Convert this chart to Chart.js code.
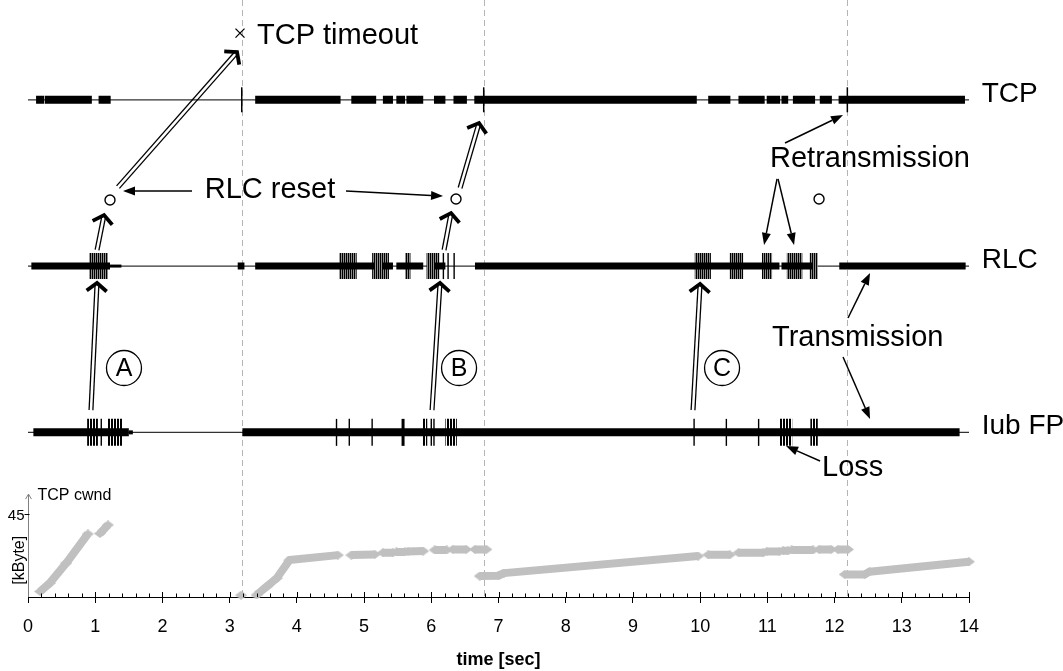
<!DOCTYPE html>
<html>
<head>
<meta charset="utf-8">
<script src="https://cdn.jsdelivr.net/npm/chart.js@4.4.1/dist/chart.umd.min.js"></script>
<style>
  html, body { margin: 0; padding: 0; background: #fff; }
  canvas { display: block; }
</style>
</head>
<body>
<canvas id="c" width="1063" height="671"></canvas>
<script>
// ---- protocol layers (lane value on the vertical "lane" axis) ----
const laneNames = ['Iub FP', 'RLC', 'TCP'];
const laneIub = 1, laneRlc = 2, laneTcp = 3;
const timeRange = [0, 14];

// TCP segments on the wire [start, end] in seconds
const tcpBursts = [[0.12, 0.24], [0.25, 0.95], [1.05, 1.23], [3.38, 4.65], [4.81, 5.18],
  [5.28, 5.43], [5.48, 5.61], [5.63, 5.88], [6.04, 6.21], [6.33, 6.53], [6.64, 9.95],
  [10.12, 10.45], [10.57, 10.96], [10.99, 11.19], [11.21, 11.31], [11.38, 11.71],
  [11.78, 11.96], [12.06, 13.94]];
const tcpTicks = [3.18, 6.78, 12.19];

// RLC PDUs
const rlcBursts = [[0.05, 1.22], [3.12, 3.22], [3.38, 5.16], [5.28, 5.43], [5.48, 5.88],
  [6.05, 6.21], [6.65, 11.18], [11.21, 11.68], [12.07, 13.95]];
const rlcTail = [[1.22, 1.39]];
const rlcRetxBlocks = [[0.91, 1.19], [4.63, 4.89], [5.12, 5.37], [5.61, 5.69], [5.93, 6.12],
  [9.92, 10.16], [10.44, 10.64], [10.92, 11.07], [11.29, 11.52], [11.63, 11.75]];
const rlcTicks = [6.18, 6.25, 6.34];

// Iub frame protocol
const iubBursts = [[0.08, 1.50], [3.19, 13.86]];
const iubTail = [[1.50, 1.56]];
const iubLossClusters = [[0.88, 1.04], [1.18, 1.41], [5.87, 5.94], [6.21, 6.38],
  [11.18, 11.37], [11.64, 11.75]];
const iubTicks = [1.09, 4.59, 4.78, 5.12, 6.00, 6.04, 9.91, 10.39, 10.87];
const iubWideTicks = [5.58];

// RLC reset instants
const resetTimes = [3.18, 6.78, 12.19];

// TCP congestion window [kByte]; null separates runs
const cwndTime = [0.18, 0.32, 0.57, 0.89, null, 1.07, 1.19, null, 3.17, null,
  3.40, 3.55, 3.70, 3.89, 4.61, null, 4.81, 5.16, null, 5.28, 5.43, null, 5.48, 5.61, null,
  5.65, 5.88, null, 6.05, 6.23, null, 6.32, 6.52, null, 6.65, 6.82, null,
  6.72, 7.00, 7.08, 9.97, null, 10.12, 10.44, null, 10.57, 10.94, null, 10.99, 11.18, null,
  11.23, 11.31, null, 11.36, 11.68, null, 11.77, 11.95, null, 12.05, 12.20, null,
  12.15, 12.45, 12.52, 14.00];
const cwndKByte = [3, 7.4, 18.5, 34.3, null, 34.6, 39.2, null, 1, null,
  1.1, 5.6, 10.2, 20.1, 22.8, null, 22.8, 23.2, null, 24.1, 24.1, null, 24.5, 24.5, null,
  24.8, 25.0, null, 25.6, 25.6, null, 25.9, 25.9, null, 25.9, 25.9, null,
  11.4, 11.6, 13.0, 22.3, null, 23.0, 23.0, null, 24.1, 24.1, null, 24.8, 24.8, null,
  25.2, 25.2, null, 25.6, 25.6, null, 25.9, 25.9, null, 25.9, 25.9, null,
  12.3, 12.3, 13.8, 19.2];
const cwndTickValues = [45];

// ---- annotations, in (time, lane) units ----
const noteCircles = [[1.220, 2.397], [6.368, 2.403], [11.769, 2.403]];
const noteLetters = [['A', 1.428, 1.387], ['B', 6.413, 1.387], ['C', 10.326, 1.387]];
const noteTexts = [
  ['TCP timeout', 3.407, 3.383, 'left'],
  ['RLC reset', 3.601, 2.460, 'center'],
  ['Retransmission', 11.040, 2.644, 'left'],
  ['Transmission', 11.070, 1.567, 'left'],
  ['Loss', 11.813, 0.786, 'left']
];
const timeoutMark = [3.154, 3.401];
const hollowArrows = [
  [0.937, 1.134, 1.027, 1.898],
  [1.027, 2.097, 1.131, 2.307],
  [1.339, 2.475, 3.110, 3.287],
  [6.011, 1.134, 6.130, 1.898],
  [6.190, 2.097, 6.294, 2.319],
  [6.428, 2.469, 6.710, 2.860],
  [9.894, 1.134, 9.999, 1.892]
];
const plainArrows = [
  [2.440, 2.451, 1.413, 2.451],
  [4.731, 2.451, 6.175, 2.421],
  [11.263, 2.740, 12.126, 2.908],
  [11.144, 2.524, 10.951, 2.127],
  [11.159, 2.524, 11.397, 2.127],
  [12.200, 1.688, 12.528, 1.958],
  [12.126, 1.453, 12.528, 1.080],
  [11.784, 0.828, 11.278, 0.918]
];

// ---- helpers ----
const FONT = "'Liberation Sans', Arial, sans-serif";
Chart.defaults.font.family = FONT;
Chart.defaults.color = '#000';

const canvas = document.getElementById('c');
const mainCtx = canvas.getContext('2d');

function stripePattern(cols) {
  const c = document.createElement('canvas');
  c.width = cols.length; c.height = 4;
  const g = c.getContext('2d');
  cols.forEach((col, i) => { g.fillStyle = col; g.fillRect(i, 0, 1, 4); });
  return mainCtx.createPattern(c, 'repeat');
}
function diamondImage(w, h, color) {
  const c = document.createElement('canvas');
  c.width = w; c.height = h;
  const g = c.getContext('2d');
  g.fillStyle = color;
  g.beginPath();
  g.moveTo(0, h / 2); g.lineTo(w / 2, 0); g.lineTo(w, h / 2); g.lineTo(w / 2, h);
  g.closePath(); g.fill();
  return c;
}
function segmentPoints(segs, lane) {
  const out = [];
  segs.forEach(([a, b]) => { out.push({x: a, y: lane}, {x: b, y: lane}, {x: b, y: null}); });
  return out;
}
function tickPoints(ts, lane) { return ts.map(t => ({x: t, y: lane})); }

const segLine = (label, data, width, color) => ({
  label, data, yAxisID: 'lane', showLine: true, spanGaps: false,
  borderColor: color, borderWidth: width, borderCapStyle: 'butt',
  pointRadius: 0, pointHoverRadius: 0, fill: false
});
const tickSet = (label, data, radius, width) => ({
  label, data, yAxisID: 'lane', showLine: false,
  pointStyle: 'line', pointRotation: 90, pointRadius: radius, pointHoverRadius: radius,
  pointBorderColor: '#000', pointBorderWidth: width, pointBackgroundColor: '#000'
});

const cwndData = cwndTime.map((t, i) => {
  if (t === null) return {x: cwndTime[i - 1], y: null};
  return {x: t, y: cwndKByte[i]};
});

const baselineData = [];
[laneTcp, laneRlc, laneIub].forEach(l => {
  baselineData.push({x: timeRange[0], y: l}, {x: timeRange[1], y: l}, {x: timeRange[1], y: null});
});

// ---- decorations drawn through the chart scales ----
function hollowArrow(ctx, x0, y0, x1, y1) {
  const dx = x1 - x0, dy = y1 - y0, len = Math.hypot(dx, dy);
  const ux = dx / len, uy = dy / len, nx = -uy, ny = ux, g = 1.9;
  ctx.lineWidth = 1.3; ctx.lineCap = 'butt';
  [-1, 1].forEach(s => {
    ctx.beginPath();
    ctx.moveTo(x0 + s * g * nx, y0 + s * g * ny);
    ctx.lineTo(x1 - ux * 3 + s * g * nx, y1 - uy * 3 + s * g * ny);
    ctx.stroke();
  });
  const back = 8, half = 10;
  ctx.lineWidth = 3.8; ctx.lineJoin = 'miter';
  ctx.beginPath();
  ctx.moveTo(x1 - ux * back + nx * half, y1 - uy * back + ny * half);
  ctx.lineTo(x1, y1);
  ctx.lineTo(x1 - ux * back - nx * half, y1 - uy * back - ny * half);
  ctx.stroke();
}
function plainArrow(ctx, x0, y0, x1, y1) {
  const a = Math.atan2(y1 - y0, x1 - x0), L = 12, W = 4.5;
  const bx = x1 - L * Math.cos(a), by = y1 - L * Math.sin(a);
  ctx.lineWidth = 1.5; ctx.lineCap = 'butt';
  ctx.beginPath(); ctx.moveTo(x0, y0); ctx.lineTo(bx, by); ctx.stroke();
  ctx.beginPath();
  ctx.moveTo(x1, y1);
  ctx.lineTo(bx + W * Math.sin(a), by - W * Math.cos(a));
  ctx.lineTo(bx - W * Math.sin(a), by + W * Math.cos(a));
  ctx.closePath(); ctx.fill();
}

const diagramPlugin = {
  id: 'diagram',
  beforeDatasetsDraw(chart) {
    const {ctx, chartArea, scales: {x}} = chart;
    ctx.save();
    ctx.strokeStyle = '#b4b4b4'; ctx.lineWidth = 1; ctx.setLineDash([6, 4]);
    resetTimes.forEach(t => {
      const px = Math.round(x.getPixelForValue(t)) + 0.5;
      ctx.beginPath(); ctx.moveTo(px, chartArea.top); ctx.lineTo(px, chartArea.bottom); ctx.stroke();
    });
    ctx.restore();
  },
  afterDatasetsDraw(chart) {
    const {ctx, chartArea, scales: {x, y, lane}} = chart;
    const P = (t, l) => [x.getPixelForValue(t), lane.getPixelForValue(l)];
    ctx.save();
    ctx.strokeStyle = '#000'; ctx.fillStyle = '#000';

    // minor / upper tick marks of the time axis
    const yb = chartArea.bottom;
    ctx.lineWidth = 1;
    for (let i = 0; i <= 70; i++) {
      const v = i / 5;
      const px = Math.round(x.getPixelForValue(v)) + 0.5;
      const up = (i % 5 === 0) ? 5 : 3.5;
      ctx.beginPath(); ctx.moveTo(px, yb); ctx.lineTo(px, yb - up); ctx.stroke();
    }

    // congestion window axis
    const x0 = Math.round(x.getPixelForValue(0)) + 0.5;
    const yTop = y.getPixelForValue(56);
    ctx.strokeStyle = '#808080'; ctx.lineWidth = 1;
    ctx.beginPath(); ctx.moveTo(x0, yb); ctx.lineTo(x0, yTop); ctx.stroke();
    ctx.beginPath(); ctx.moveTo(x0 - 3, yTop + 5); ctx.lineTo(x0, yTop); ctx.lineTo(x0 + 3, yTop + 5); ctx.stroke();
    ctx.strokeStyle = '#000';
    ctx.font = '15px ' + FONT; ctx.textAlign = 'right'; ctx.textBaseline = 'middle';
    cwndTickValues.forEach(v => {
      const py = Math.round(y.getPixelForValue(v)) + 0.5;
      ctx.beginPath(); ctx.moveTo(x0 - 4, py); ctx.lineTo(x0 + 1, py); ctx.stroke();
      ctx.fillText(String(v), x0 - 4, py + 1);
    });
    ctx.font = '16px ' + FONT; ctx.textAlign = 'left';
    ctx.fillText('TCP cwnd', x0 + 9, y.getPixelForValue(55));
    ctx.save();
    ctx.translate(x0 - 9, y.getPixelForValue(20));
    ctx.rotate(-Math.PI / 2);
    ctx.textAlign = 'center';
    ctx.fillText('[kByte]', 0, 0);
    ctx.restore();

    // layer names
    ctx.font = '28px ' + FONT; ctx.textAlign = 'left'; ctx.textBaseline = 'alphabetic';
    [laneIub, laneRlc, laneTcp].forEach((l, i) => {
      const [px, py] = P(14.19, l);
      ctx.fillText(laneNames[i], px, py + 2);
    });

    // notes
    ctx.font = '29px ' + FONT; ctx.textBaseline = 'middle';
    noteTexts.forEach(([txt, t, l, al]) => {
      const [px, py] = P(t, l);
      ctx.textAlign = al; ctx.fillText(txt, px, py);
    });

    // timeout cross
    {
      const [cx, cy] = P(timeoutMark[0], timeoutMark[1]);
      ctx.lineWidth = 1.3;
      ctx.beginPath();
      ctx.moveTo(cx - 4.5, cy - 4.5); ctx.lineTo(cx + 4.5, cy + 4.5);
      ctx.moveTo(cx + 4.5, cy - 4.5); ctx.lineTo(cx - 4.5, cy + 4.5);
      ctx.stroke();
    }

    // reset circles
    ctx.lineWidth = 1.4;
    noteCircles.forEach(([t, l]) => {
      const [cx, cy] = P(t, l);
      ctx.beginPath(); ctx.arc(cx, cy, 5, 0, Math.PI * 2); ctx.stroke();
    });

    // circled letters
    ctx.font = '25px ' + FONT; ctx.textAlign = 'center'; ctx.textBaseline = 'middle';
    noteLetters.forEach(([s, t, l]) => {
      const [cx, cy] = P(t, l);
      ctx.lineWidth = 1.3;
      ctx.beginPath(); ctx.arc(cx, cy, 17.5, 0, Math.PI * 2); ctx.stroke();
      ctx.fillText(s, cx, cy + 1);
    });

    // arrows
    hollowArrows.forEach(([t0, l0, t1, l1]) => {
      const [a, b] = P(t0, l0), [c, d] = P(t1, l1);
      hollowArrow(ctx, a, b, c, d);
    });
    plainArrows.forEach(([t0, l0, t1, l1]) => {
      const [a, b] = P(t0, l0), [c, d] = P(t1, l1);
      plainArrow(ctx, a, b, c, d);
    });
    ctx.restore();
  }
};

const rlcHatch = stripePattern(['#000000', '#8c8c8c']);
const iubHatch = stripePattern(['#000000', '#000000', '#ffffff']);

new Chart(canvas, {
  type: 'line',
  data: {
    datasets: [
      tickSet('TCP marks', tickPoints(tcpTicks, laneTcp), 12.5, 1.5),
      tickSet('RLC marks', tickPoints(rlcTicks, laneRlc), 13, 1.4),
      tickSet('Iub FP marks', tickPoints(iubTicks, laneIub), 13.5, 1.4),
      tickSet('Iub FP wide marks', tickPoints(iubWideTicks, laneIub), 13.5, 3),
      segLine('TCP', segmentPoints(tcpBursts, laneTcp), 8, '#000'),
      segLine('RLC', segmentPoints(rlcBursts, laneRlc), 7, '#000'),
      segLine('RLC tail', segmentPoints(rlcTail, laneRlc), 3, '#000'),
      segLine('Iub FP', segmentPoints(iubBursts, laneIub), 8, '#000'),
      segLine('Iub FP tail', segmentPoints(iubTail, laneIub), 4, '#000'),
      segLine('RLC retransmissions', segmentPoints(rlcRetxBlocks, laneRlc), 26, rlcHatch),
      segLine('Iub FP losses', segmentPoints(iubLossClusters, laneIub), 27, iubHatch),
      segLine('baselines', baselineData, 1.2, '#333'),
      {
        label: 'TCP cwnd', data: cwndData, yAxisID: 'y', showLine: true, spanGaps: false,
        borderColor: '#c0c0c0', borderWidth: 8, borderJoinStyle: 'round', borderCapStyle: 'butt',
        pointStyle: diamondImage(12, 9, '#c0c0c0'), pointRadius: 4, pointHoverRadius: 4,
        clip: false, fill: false
      }
    ]
  },
  options: {
    responsive: false,
    animation: false,
    events: [],
    layout: { autoPadding: false, padding: { left: 28, right: 94, top: 0, bottom: 0 } },
    plugins: { legend: { display: false }, tooltip: { enabled: false } },
    scales: {
      x: {
        type: 'linear', position: 'bottom', min: timeRange[0], max: timeRange[1],
        ticks: { stepSize: 1, font: { size: 18 }, color: '#000', padding: 13, maxRotation: 0, autoSkip: false },
        grid: { drawOnChartArea: false, drawTicks: true, tickLength: 6, color: '#000', lineWidth: 1 },
        border: { display: true, color: '#000', width: 1 },
        title: { display: true, text: 'time [sec]', font: { size: 18, weight: 'bold' }, color: '#000', padding: 0 },
        afterFit: s => { s.height = 74; }
      },
      y: { type: 'linear', min: 0, max: 325, display: false },
      lane: { type: 'linear', min: 0.01, max: 3.6, display: false }
    }
  },
  plugins: [diagramPlugin]
});
</script>
</body>
</html>
